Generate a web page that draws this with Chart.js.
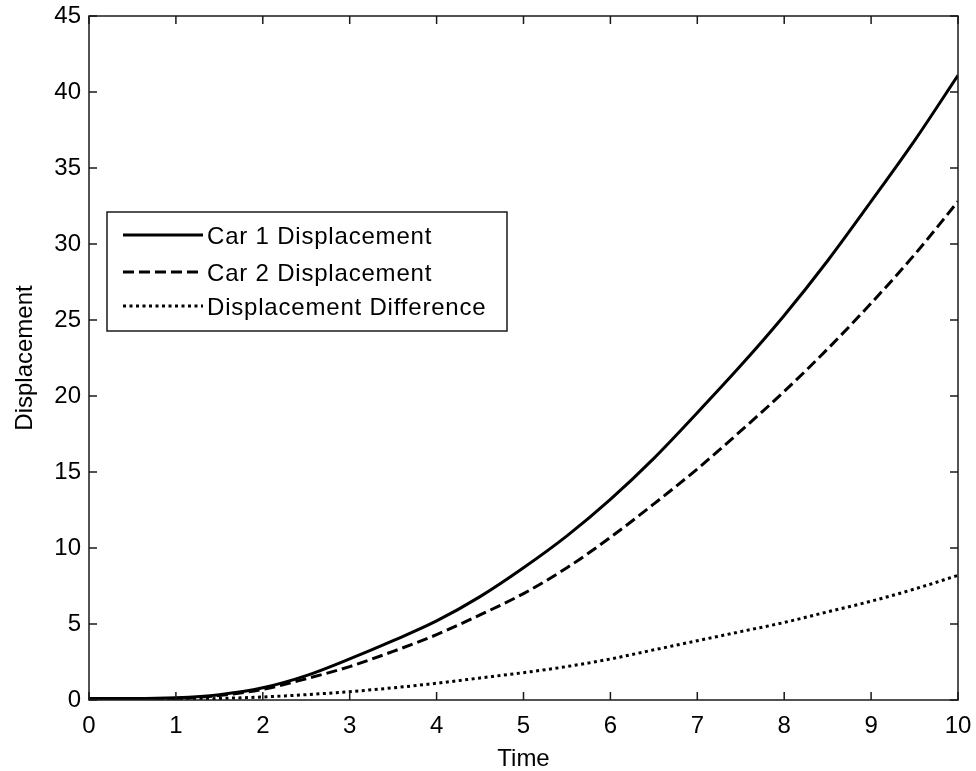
<!DOCTYPE html>
<html>
<head>
<meta charset="utf-8">
<script src="https://cdn.jsdelivr.net/npm/chart.js@4.4.1/dist/chart.umd.min.js"></script>
<style>
  html, body { margin: 0; padding: 0; background: #fff; }
  canvas { display: block; }
</style>
</head>
<body>
<canvas id="chart" width="976" height="771"></canvas>
<script>
// Values
const timeValues = [0, 0.5, 1, 1.5, 2, 2.5, 3, 3.5, 4, 4.5, 5, 5.5, 6, 6.5, 7, 7.5, 8, 8.5, 9, 9.5, 10];
const car1Disp = [0.1, 0.1, 0.15, 0.35, 0.8, 1.6, 2.7, 3.9, 5.2, 6.8, 8.7, 10.8, 13.2, 15.9, 18.9, 22.0, 25.3, 28.9, 32.8, 36.8, 41.1];
const car2Disp = [0.05, 0.05, 0.1, 0.3, 0.7, 1.4, 2.2, 3.2, 4.3, 5.6, 7.0, 8.7, 10.7, 12.9, 15.2, 17.7, 20.3, 23.1, 26.1, 29.3, 32.8];
const dispDiff = [0, 0, 0.05, 0.1, 0.2, 0.35, 0.55, 0.8, 1.1, 1.45, 1.8, 2.2, 2.7, 3.3, 3.9, 4.5, 5.1, 5.8, 6.5, 7.3, 8.2];
const seriesLabels = ['Car 1 Displacement', 'Car 2 Displacement', 'Displacement Difference'];
const xTicks = [0, 1, 2, 3, 4, 5, 6, 7, 8, 9, 10];
const yTicks = [0, 5, 10, 15, 20, 25, 30, 35, 40, 45];

const FONT = 'Liberation Sans, Arial, sans-serif';
const toPoints = ys => timeValues.map((t, i) => ({ x: t, y: ys[i] }));

// MATLAB-like box with inward ticks on all four sides
const framePlugin = {
  id: 'frame',
  afterDatasetsDraw(chart) {
    const { ctx, chartArea: a, scales } = chart;
    ctx.save();
    ctx.strokeStyle = '#1a1a1a';
    ctx.lineWidth = 1.5;
    ctx.strokeRect(a.left, a.top, a.right - a.left, a.bottom - a.top);
    const len = 8;
    ctx.beginPath();
    xTicks.forEach(v => {
      const px = scales.x.getPixelForValue(v);
      ctx.moveTo(px, a.bottom); ctx.lineTo(px, a.bottom - len);
      ctx.moveTo(px, a.top); ctx.lineTo(px, a.top + len);
    });
    yTicks.forEach(v => {
      const py = scales.y.getPixelForValue(v);
      ctx.moveTo(a.left, py); ctx.lineTo(a.left + len, py);
      ctx.moveTo(a.right, py); ctx.lineTo(a.right - len, py);
    });
    ctx.stroke();
    ctx.restore();
  }
};

// Boxed legend inside the axes
const boxLegendPlugin = {
  id: 'boxLegend',
  afterDraw(chart) {
    const { ctx } = chart;
    const box = { x: 107, y: 212, w: 400, h: 119 };
    const rows = [235, 272, 306];
    ctx.save();
    ctx.fillStyle = '#fff';
    ctx.fillRect(box.x, box.y, box.w, box.h);
    ctx.strokeStyle = '#1a1a1a';
    ctx.lineWidth = 1.5;
    ctx.strokeRect(box.x, box.y, box.w, box.h);
    chart.data.datasets.forEach((ds, i) => {
      ctx.beginPath();
      ctx.setLineDash(ds.borderDash || []);
      ctx.lineWidth = ds.borderWidth;
      ctx.strokeStyle = ds.borderColor;
      ctx.moveTo(123, rows[i]);
      ctx.lineTo(203, rows[i]);
      ctx.stroke();
      ctx.setLineDash([]);
      ctx.fillStyle = '#000';
      ctx.font = '24px ' + FONT;
      ctx.letterSpacing = '0.8px';
      ctx.textBaseline = 'middle';
      ctx.fillText(ds.label, 207, rows[i] + 2);
    });
    ctx.restore();
  }
};

new Chart(document.getElementById('chart'), {
  type: 'line',
  data: {
    datasets: [
      { label: seriesLabels[0], data: toPoints(car1Disp), borderColor: '#000', borderWidth: 3,
        pointRadius: 0, cubicInterpolationMode: 'monotone' },
      { label: seriesLabels[1], data: toPoints(car2Disp), borderColor: '#000', borderWidth: 3,
        borderDash: [11, 5], pointRadius: 0, cubicInterpolationMode: 'monotone' },
      { label: seriesLabels[2], data: toPoints(dispDiff), borderColor: '#000', borderWidth: 3,
        borderDash: [3, 3.5], pointRadius: 0, cubicInterpolationMode: 'monotone' },
    ]
  },
  options: {
    responsive: false, animation: false,
    layout: { padding: { top: 16, right: 18, left: 0, bottom: 0 } },
    plugins: { legend: { display: false }, tooltip: { enabled: false } },
    scales: {
      x: {
        type: 'linear', min: 0, max: 10,
        afterBuildTicks: s => { s.ticks = xTicks.map(v => ({ value: v })); },
        afterFit: s => { s.height = 71; },
        grid: { display: false, drawTicks: true, tickLength: 12 }, border: { display: false },
        ticks: { color: '#000', padding: 0, font: { family: FONT, size: 24 } },
        title: { display: true, text: 'Time', color: '#000', padding: { top: 0, bottom: 0 },
          font: { family: FONT, size: 24, lineHeight: 1 } }
      },
      y: {
        type: 'linear', min: 0, max: 45,
        afterBuildTicks: s => { s.ticks = yTicks.map(v => ({ value: v })); },
        afterFit: s => { s.width = 89; },
        grid: { display: false, drawTicks: true, tickLength: 8 }, border: { display: false },
        ticks: { color: '#000', padding: 0, font: { family: FONT, size: 24 } },
        title: { display: true, text: 'Displacement', color: '#000', padding: { top: 11, bottom: 0 },
          font: { family: FONT, size: 24 } }
      }
    }
  },
  plugins: [framePlugin, boxLegendPlugin]
});
</script>
</body>
</html>
